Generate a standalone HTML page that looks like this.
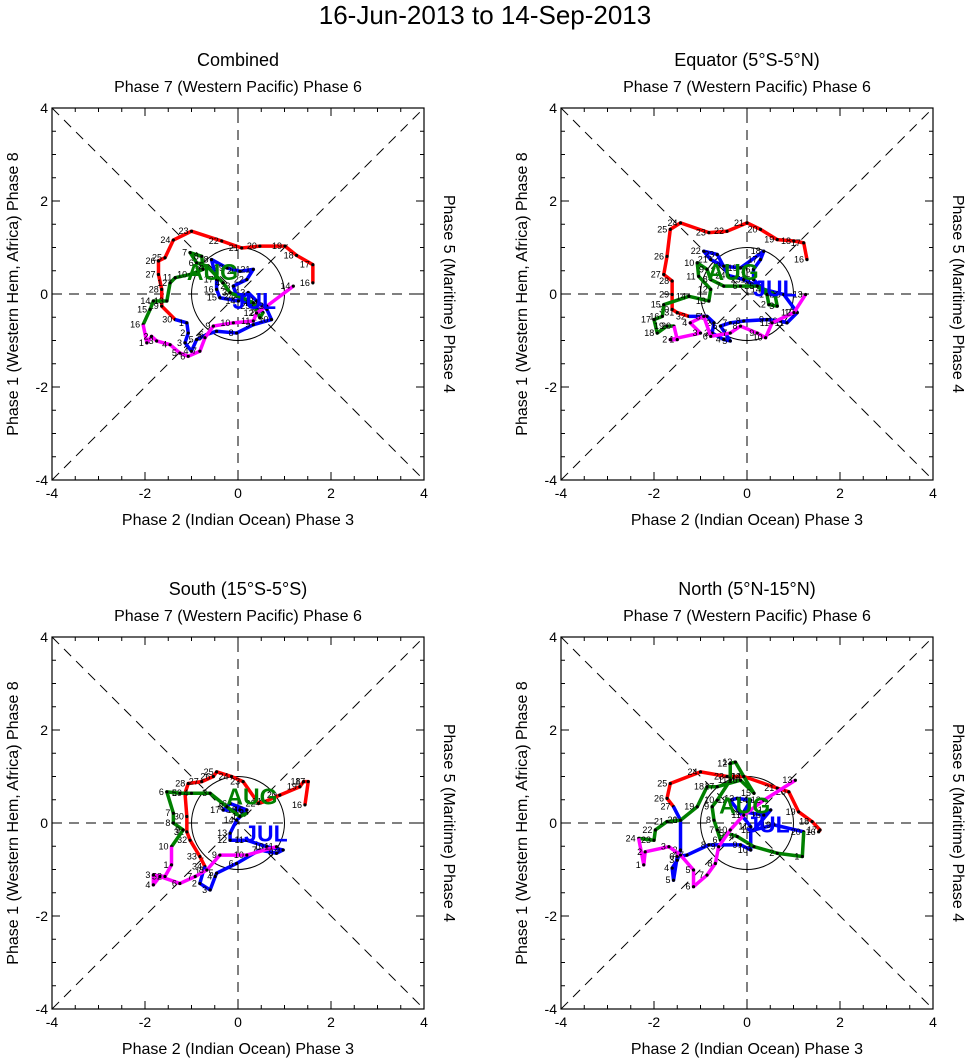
<!DOCTYPE html>
<html><head><meta charset="utf-8"><style>
body{margin:0;background:#fff;}
svg{display:block;font-family:"Liberation Sans",Arial,sans-serif;}
</style></head><body>
<svg id="fig" width="971" height="1061" viewBox="0 0 971 1061">
<text x="485" y="24" text-anchor="middle" font-size="26">16-Jun-2013 to 14-Sep-2013</text>
</svg>
<script>
// Trajectory data (RMM1, RMM2) per panel per month
const p1Jun=[[1.61,0.24],[1.61,0.63],[1.26,0.83],[1.01,1.03],[0.47,1.03],[0.08,0.99],[-0.35,1.14],[-1.00,1.35],[-1.39,1.16],[-1.57,0.78],[-1.71,0.71],[-1.71,0.42],[-1.64,0.10],[-1.64,-0.26],[-1.35,-0.55]];
const p1Jul=[[-1.35,-0.55],[-1.10,-0.62],[-1.07,-0.84],[-1.14,-1.05],[-1.00,-1.23],[-0.89,-0.98],[-0.67,-0.87],[-0.46,-0.80],[-0.03,-0.84],[0.33,-0.66],[0.72,-0.55],[0.62,-0.33],[0.40,-0.15],[0.22,0.03],[0.01,-0.15],[-0.39,-0.08],[-0.46,0.10],[-0.46,0.31],[-0.57,0.74],[-0.24,0.56],[0.04,0.49],[0.33,0.53],[0.19,0.31],[-0.10,0.17],[-0.03,-0.05],[0.33,-0.26],[0.54,-0.40]];
const p1Aug=[[0.54,-0.40],[0.47,-0.51],[0.33,-0.19],[-0.17,0.03],[-0.32,0.24],[-0.67,0.60],[-0.89,0.67],[-1.03,0.89],[-0.78,0.81],[-0.75,0.53],[-1.03,0.42],[-1.35,0.35],[-1.46,0.24],[-1.53,-0.15],[-1.82,-0.15],[-1.89,-0.33],[-2.04,-0.66]];
const p1Sep=[[-2.04,-0.66],[-1.96,-1.05],[-1.86,-0.91],[-1.75,-1.01],[-1.46,-1.09],[-1.25,-1.27],[-1.07,-1.34],[-0.82,-1.23],[-0.71,-0.94],[-0.53,-0.69],[-0.10,-0.62],[0.33,-0.58],[0.40,-0.41],[0.62,-0.26],[1.19,0.17]];
const p2Jun=[[1.29,0.74],[1.22,1.10],[1.01,1.14],[0.65,1.17],[0.29,1.39],[0,1.53],[-0.43,1.35],[-0.82,1.32],[-1.43,1.53],[-1.65,1.39],[-1.72,0.81],[-1.79,0.42],[-1.61,0.28],[-1.61,-0.01],[-1.61,-0.33],[-1.50,-0.40],[-1.25,-0.48]];
const p2Jul=[[-1.25,-0.48],[-0.86,-0.48],[-0.71,-0.62],[-0.75,-0.84],[-0.50,-0.98],[-0.36,-1.01],[-0.57,-0.69],[-0.36,-0.62],[-0.07,-0.58],[0.43,-0.55],[0.72,-0.58],[0.86,-0.62],[1.08,-0.40],[0.79,-0.01],[0.36,0.10],[0.14,0.31],[0.14,0.53],[0.29,0.74],[0.36,0.92],[-0.14,0.56],[-0.50,0.60],[-0.78,0.74],[-0.93,0.92],[-0.64,0.85],[-0.40,0.40],[-0.07,0.31],[0.22,0.17]];
const p2Aug=[[0.22,0.17],[0.43,-0.01],[0.47,-0.23],[0.65,-0.26],[0.60,-0.01],[0.22,0.17],[-0.14,0.17],[-0.50,0.17],[-0.78,0.31],[-0.86,0.53],[-1.07,0.67],[-1.04,0.38],[-0.78,0.10],[-0.82,-0.15],[-1.25,-0.05],[-1.79,-0.23],[-1.82,-0.48],[-2.00,-0.55],[-1.93,-0.84],[-1.72,-0.69],[-1.57,-0.69]];
const p2Sep=[[-1.57,-0.69],[-1.50,-0.98],[-1.65,-0.98],[-1.00,-0.84],[-1.22,-0.62],[-0.93,-0.48],[-0.78,-0.91],[-0.36,-0.84],[-0.14,-0.69],[0.22,-0.84],[0.40,-0.94],[0.54,-0.62],[1.01,-0.40],[1.26,-0.01]];
const p3Jun=[[1.44,0.39],[1.51,0.89],[1.41,0.89],[1.33,0.78],[0.90,0.60],[0.58,0.46],[0.44,0.42],[0.11,0.89],[-0.14,1.00],[-0.46,1.10],[-0.53,1.00],[-0.78,0.89],[-1.07,0.85],[-1.14,0.64],[-1.10,0.14],[-1.10,-0.19],[-1.03,-0.37],[-0.82,-0.72],[-0.71,-0.94]];
const p3Jul=[[-0.71,-0.94],[-0.75,-1.05],[-0.82,-1.30],[-0.60,-1.44],[-0.49,-1.15],[-0.46,-1.08],[-0.03,-0.87],[0.47,-0.58],[0.83,-0.65],[0.97,-0.58],[0.62,-0.51],[0.19,-0.37],[-0.17,-0.37],[-0.17,-0.22],[-0.03,0.06],[0.19,0.28],[-0.17,0.42],[-0.32,0.28],[0.04,0.28],[0.19,0.21]];
const p3Aug=[[0.19,0.21],[0.04,0.14],[-0.24,0.35],[-0.60,0.64],[-1.00,0.64],[-1.25,0.64],[-1.53,0.67],[-1.39,0.21],[-1.39,0],[-1.18,-0.15],[-1.43,-0.51]];
const p3Sep=[[-1.43,-0.51],[-1.43,-0.90],[-1.57,-1.15],[-1.82,-1.12],[-1.82,-1.33],[-1.68,-1.15],[-1.25,-1.30],[-0.92,-1.15],[-0.67,-1.01],[-0.39,-0.69],[0.19,-0.69],[0.83,-0.51]];
const p4Jun=[[1.54,-0.19],[1.57,-0.15],[1.40,0.03],[1.11,0.24],[0.90,0.67],[0.65,0.75],[-0.07,1.00],[-0.43,1.00],[-1.00,1.10],[-1.65,0.85],[-1.72,0.53],[-1.58,0.35]];
const p4Jul=[[-1.58,0.35],[-1.43,0.06],[-1.43,-0.58],[-1.50,-0.80],[-1.61,-0.97],[-1.58,-1.23],[-1.50,-0.72],[-1.29,-0.69],[-0.82,-0.47],[-0.14,-0.47],[0.08,-0.58],[0.08,-0.08],[-0.36,0.49],[-0.21,0.53],[0.08,0.49],[-0.07,0.24],[0.36,0.17],[0.51,0.28],[0.15,-0.15],[0.58,-0.04],[1.22,-0.19]];
const p4Aug=[[1.22,-0.19],[1.19,-0.72],[0.65,-0.65],[0.15,-0.51],[-0.21,-0.29],[-0.43,-0.22],[-0.57,-0.37],[-0.64,-0.15],[-0.71,0.06],[-0.75,0.35],[-0.64,0.49],[-0.36,0.92],[-0.36,1.28],[-0.25,1.31],[-0.07,1.00],[0.15,0.64],[-0.14,0.92],[-0.64,0.78],[-0.86,0.78],[-1.07,0.35],[-1.43,0.06],[-1.72,0.03],[-1.97,-0.15],[-2.00,-0.37],[-2.33,-0.33]];
const p4Sep=[[-2.33,-0.33],[-2.22,-0.90],[-2.19,-0.62],[-1.68,-0.51],[-1.43,-0.69],[-1.15,-1.01],[-1.15,-1.37],[-0.86,-1.12],[-0.68,-0.87],[-0.61,-0.51],[-0.36,-0.15],[-0.07,0.17],[0.36,0.49],[1.04,0.92]];
const panelTitles=["Combined","Equator (5°S-5°N)","South (15°S-5°S)","North (5°N-15°N)"];
const tickVals=[-4,-2,0,2,4];
const monthColors=["#ff0000","#0000ff","#008000","#ff00ff"];
const monthStartDay=[16,1,1,1];
const panelData=[[p1Jun,p1Jul,p1Aug,p1Sep],[p2Jun,p2Jul,p2Aug,p2Sep],[p3Jun,p3Jul,p3Aug,p3Sep],[p4Jun,p4Jul,p4Aug,p4Sep]];
const jul=[[0.35,-0.32],[0.60,-0.05],[0.60,-0.40],[0.45,-0.20]];
const aug=[[-0.55,0.30],[-0.30,0.30],[0.30,0.40],[-0.05,0.20]];

const NS="http://www.w3.org/2000/svg";
const svg=document.getElementById('fig');
function mk(tag,attrs,parent){const e=document.createElementNS(NS,tag);for(const k in attrs)e.setAttribute(k,attrs[k]);(parent||svg).appendChild(e);return e;}
const origins=[[52,108],[561,108],[52,637],[561,637]];
const W=372;
panelData.forEach((months,pi)=>{
  const [x0,y0]=origins[pi];
  const sx=v=>x0+(v+4)/8*W, sy=v=>y0+(4-v)/8*W;
  const g=mk('g',{});
  
  
  const t=mk('text',{x:x0+W/2,y:y0-42,'text-anchor':'middle','font-size':18},g);t.textContent=panelTitles[pi];
  
  const tt=mk('text',{x:x0+W/2,y:y0-16,'text-anchor':'middle','font-size':16},g);tt.textContent="Phase 7 (Western Pacific) Phase 6";
  
  const bt=mk('text',{x:x0+W/2,y:y0+W+45,'text-anchor':'middle','font-size':16},g);bt.textContent="Phase 2 (Indian Ocean) Phase 3";
  
  const lt=mk('text',{x:0,y:0,'text-anchor':'middle','font-size':16,transform:`translate(${x0-34},${y0+W/2}) rotate(-90)`},g);lt.textContent="Phase 1 (Western Hem, Africa) Phase 8";
  
  const rt=mk('text',{x:0,y:0,'text-anchor':'middle','font-size':16,transform:`translate(${x0+W+20},${y0+W/2}) rotate(90)`},g);rt.textContent="Phase 5 (Maritime) Phase 4";
  
  const ds={stroke:'#000','stroke-width':1,'stroke-dasharray':'10,7',fill:'none'};
  [[-4,-4,4,4],[-4,4,4,-4],[-4,0,4,0],[0,-4,0,4]].forEach(l=>{const e=mk('line',Object.assign({x1:sx(l[0]),y1:sy(l[1]),x2:sx(l[2]),y2:sy(l[3])},ds),g);
    });
  const c=mk('circle',{cx:sx(0),cy:sy(0),r:W/8,fill:'none',stroke:'#000','stroke-width':1},g);
  
  const fr=mk('rect',{x:x0,y:y0,width:W,height:W,fill:'none',stroke:'#000','stroke-width':1.2},g);
  
  for(let v=-4;v<=4;v+=0.5){const L=(v%2===0)?8:4;
    mk('line',{x1:sx(v),y1:y0+W,x2:sx(v),y2:y0+W-L,stroke:'#000'},g);
    mk('line',{x1:sx(v),y1:y0,x2:sx(v),y2:y0+L,stroke:'#000'},g);
    mk('line',{x1:x0,y1:sy(v),x2:x0+L,y2:sy(v),stroke:'#000'},g);
    mk('line',{x1:x0+W,y1:sy(v),x2:x0+W-L,y2:sy(v),stroke:'#000'},g);}
  tickVals.forEach(v=>{
    const a=mk('text',{x:sx(v),y:y0+W+18,'text-anchor':'middle','font-size':14},g);a.textContent=v;
    
    const b=mk('text',{x:x0-4,y:sy(v)+5,'text-anchor':'end','font-size':14},g);b.textContent=v;
    });
  months.forEach((pts,mi)=>{
    const pl=mk('polyline',{points:pts.map(p=>sx(p[0])+','+sy(p[1])).join(' '),fill:'none',stroke:monthColors[mi],'stroke-width':3.5,'stroke-linejoin':'round'},g);
    
    
    pts.forEach((p,k)=>{
      if(mi>0&&k===0)return;
      const d=mk('circle',{cx:sx(p[0]),cy:sy(p[1]),r:1.6,fill:'#000'},g);
      
      const lb=mk('text',{x:sx(p[0])-3,y:sy(p[1])+3,'text-anchor':'end','font-size':9},g);
      lb.textContent=(monthStartDay[mi]+k-(mi>0?1:0));
      });
  });
  const j=mk('text',{x:sx(jul[pi][0]),y:sy(jul[pi][1]),'text-anchor':'middle','font-size':23,'font-weight':'bold',fill:'#0000ff'},g);j.textContent="JUL";
  
  const a=mk('text',{x:sx(aug[pi][0]),y:sy(aug[pi][1]),'text-anchor':'middle','font-size':23,'font-weight':'bold',fill:'#008000'},g);a.textContent="AUG";
  
});
</script>
</body></html>
